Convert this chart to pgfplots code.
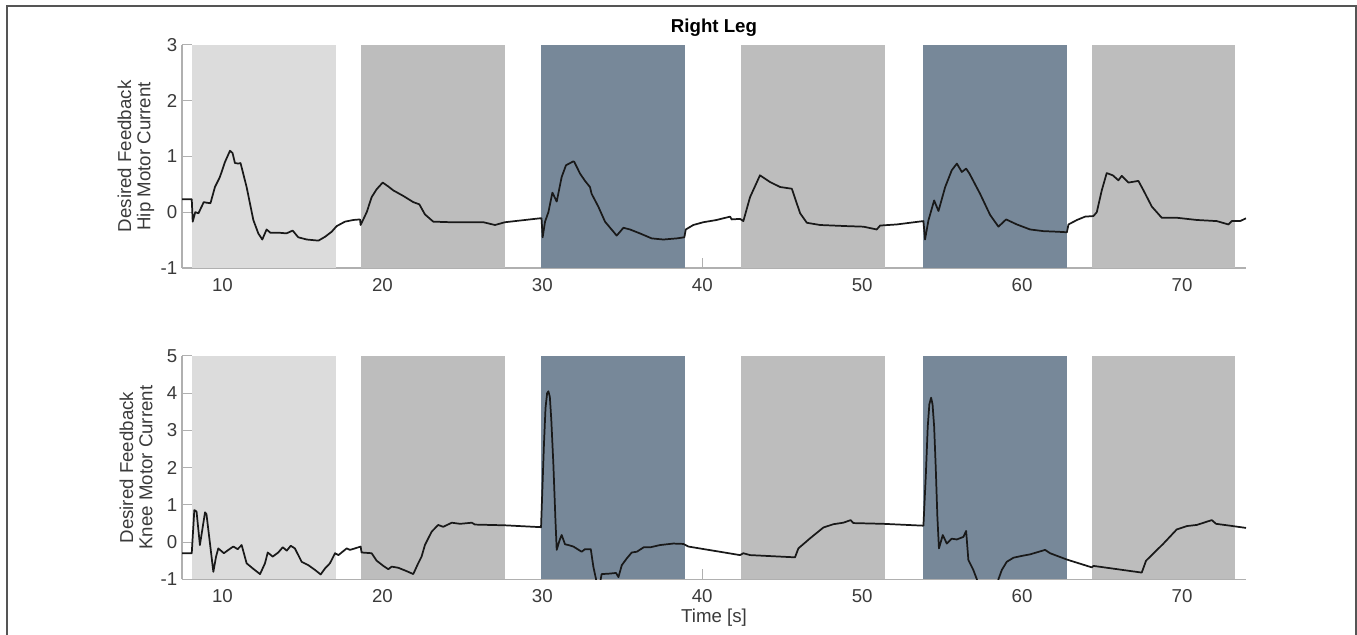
\documentclass[border=0pt]{standalone}
\usepackage{fontspec}
\setmainfont{Liberation Sans}
\usepackage{pgfplots}
\pgfplotsset{compat=1.18}
\definecolor{lg}{HTML}{DCDCDC}
\definecolor{mg}{HTML}{BDBDBD}
\definecolor{dk}{HTML}{778899}
\definecolor{txt}{HTML}{3A3A3A}
\definecolor{axc}{HTML}{B0B0B0}
\definecolor{frm}{HTML}{555555}

\newcommand{\patches}[2]{%
  \addplot[fill=lg, draw=none, forget plot] coordinates {(8.08,#1)(8.08,#2)(17.1,#2)(17.1,#1)} -- cycle;
  \addplot[fill=mg, draw=none, forget plot] coordinates {(18.66,#1)(18.66,#2)(27.66,#2)(27.66,#1)} -- cycle;
  \addplot[fill=dk, draw=none, forget plot] coordinates {(29.9,#1)(29.9,#2)(38.9,#2)(38.9,#1)} -- cycle;
  \addplot[fill=mg, draw=none, forget plot] coordinates {(42.4,#1)(42.4,#2)(51.4,#2)(51.4,#1)} -- cycle;
  \addplot[fill=dk, draw=none, forget plot] coordinates {(53.8,#1)(53.8,#2)(62.8,#2)(62.8,#1)} -- cycle;
  \addplot[fill=mg, draw=none, forget plot] coordinates {(64.4,#1)(64.4,#2)(73.3,#2)(73.3,#1)} -- cycle;
}

\pgfplotsset{
  myax/.style={
    scale only axis,
    width=798pt,
    height=167.5pt,
    anchor=south west,
    xmin=7.47, xmax=74.0,
    axis x line*=bottom, axis y line*=left,
    axis line style={axc, line width=0.8pt, -},
    tick style={axc, line width=0.8pt},
    tick align=inside,
    major tick length=7.5pt,
    xtick={10,20,...,70},
    /pgf/number format/assume math mode=true,
    ticklabel style={font=\fontsize{14}{16}\selectfont, text=txt},
    xticklabel style={yshift=-4pt},
    label style={font=\fontsize{14}{14.5}\selectfont, text=txt},
    ylabel style={at={([xshift=-34.5pt]axis description cs:0,0.5)}, anchor=center, align=center},
    clip=true,
  }
}

\begin{document}
\begin{tikzpicture}[x=0.75pt,y=0.75pt]
\useasboundingbox (0,0) rectangle (1357,635);
\draw[frm, line width=1.1pt] (7,-5) -- (7,629) -- (1356,629) -- (1356,-5);

\begin{axis}[myax, at={(136.5pt,275.25pt)},
  ymin=-1, ymax=3, ytick={-1,0,1,2,3},
  ylabel={Desired Feedback\\Hip Motor Current},
  title={Right Leg},
  title style={font=\fontsize{14}{16}\selectfont\bfseries, text=black, yshift=-3.6pt}]
\patches{-1}{3}
\addplot[black!90, line width=1.3pt, line join=round] coordinates {
(7.46,0.23)(8.08,0.23)(8.14,-0.17)(8.3,0.0)(8.5,-0.02)(8.83,0.18)(9.0,0.17)(9.25,0.16)(9.53,0.45)(9.84,0.63)(10.16,0.90)(10.47,1.10)(10.63,1.06)(10.78,0.88)(10.99,0.87)(11.13,0.88)(11.51,0.45)(11.93,-0.14)(12.24,-0.38)(12.49,-0.49)(12.76,-0.31)(13.0,-0.37)(13.6,-0.37)(14.0,-0.38)(14.39,-0.33)(14.74,-0.45)(15.27,-0.49)(16.0,-0.51)(16.42,-0.44)(16.83,-0.35)(17.14,-0.25)(17.66,-0.17)(18.18,-0.14)(18.6,-0.13)(18.64,-0.23)(19.02,0.0)(19.33,0.27)(19.64,0.41)(20.02,0.53)(20.37,0.46)(20.68,0.39)(21.31,0.29)(21.93,0.18)(22.31,0.14)(22.66,-0.04)(23.18,-0.17)(24.23,-0.18)(25.27,-0.18)(26.31,-0.18)(27.04,-0.23)(27.67,-0.18)(29.86,-0.11)(29.95,-0.11)(30.02,-0.45)(30.17,-0.17)(30.38,0.0)(30.63,0.35)(30.9,0.19)(31.21,0.63)(31.48,0.84)(31.94,0.91)(32.0,0.90)(32.36,0.69)(32.67,0.56)(32.98,0.45)(33.08,0.33)(33.5,0.10)(33.92,-0.17)(34.65,-0.42)(35.07,-0.28)(35.48,-0.31)(36.1,-0.38)(36.84,-0.47)(37.57,-0.49)(38.4,-0.47)(38.88,-0.45)(38.97,-0.31)(39.44,-0.23)(40.07,-0.18)(40.9,-0.14)(41.74,-0.08)(41.84,-0.13)(42.36,-0.12)(42.57,-0.16)(42.99,0.27)(43.61,0.66)(44.24,0.54)(44.87,0.45)(45.6,0.42)(46.12,-0.02)(46.54,-0.19)(47.37,-0.23)(49.04,-0.25)(50.08,-0.26)(50.91,-0.31)(51.12,-0.24)(52.16,-0.22)(53.83,-0.16)(53.93,-0.49)(54.14,-0.15)(54.5,0.21)(54.77,0.02)(55.19,0.45)(55.6,0.75)(55.92,0.87)(56.23,0.72)(56.5,0.78)(56.71,0.69)(57.37,0.33)(58.0,-0.05)(58.52,-0.26)(59.0,-0.13)(59.67,-0.22)(60.5,-0.31)(61.33,-0.34)(62.17,-0.35)(62.8,-0.36)(62.9,-0.22)(63.43,-0.14)(63.94,-0.08)(64.46,-0.07)(64.67,0.0)(64.98,0.39)(65.29,0.70)(65.67,0.66)(66.02,0.57)(66.23,0.65)(66.65,0.53)(67.27,0.56)(67.59,0.39)(68.11,0.10)(68.73,-0.10)(69.67,-0.10)(70.92,-0.14)(72.17,-0.16)(72.9,-0.22)(73.11,-0.16)(73.63,-0.16)(74.0,-0.11)
};
\end{axis}

\begin{axis}[myax, at={(136.5pt,41.78pt)},
  ymin=-1, ymax=5, ytick={-1,0,1,2,3,4,5},
  ylabel={Desired Feedback\\Knee Motor Current},
  xlabel={Time [s]},
  xlabel style={at={([yshift=-28.5pt]axis description cs:0.5,0)}, anchor=center}]
\patches{-1}{5}
\addplot[black!90, line width=1.3pt, line join=round] coordinates {
(7.46,-0.30)(8.08,-0.30)(8.24,0.86)(8.38,0.82)(8.59,-0.08)(8.91,0.80)(9.0,0.75)(9.22,-0.04)(9.43,-0.80)(9.6,-0.39)(9.74,-0.17)(10.09,-0.30)(10.37,-0.21)(10.68,-0.12)(10.95,-0.19)(11.2,-0.08)(11.51,-0.57)(11.93,-0.72)(12.35,-0.86)(12.66,-0.57)(12.83,-0.28)(13.14,-0.39)(13.49,-0.28)(13.77,-0.14)(14.02,-0.23)(14.27,-0.10)(14.53,-0.17)(14.95,-0.53)(15.37,-0.62)(15.79,-0.75)(16.14,-0.87)(16.41,-0.71)(16.72,-0.57)(17.04,-0.30)(17.25,-0.35)(17.77,-0.17)(17.97,-0.21)(18.29,-0.17)(18.64,-0.12)(18.7,-0.28)(19.33,-0.30)(19.64,-0.50)(20.06,-0.64)(20.37,-0.73)(20.58,-0.66)(20.99,-0.69)(21.51,-0.78)(21.93,-0.86)(22.24,-0.57)(22.45,-0.39)(22.66,-0.08)(23.08,0.28)(23.49,0.46)(23.8,0.41)(24.34,0.52)(24.86,0.49)(25.59,0.52)(25.79,0.47)(27.67,0.45)(29.92,0.40)(30.1,2.6)(30.2,3.6)(30.3,4.0)(30.38,4.05)(30.47,3.9)(30.56,3.3)(30.69,2.1)(30.82,0.6)(30.9,-0.21)(31.08,0.05)(31.21,0.19)(31.42,-0.06)(31.63,-0.08)(31.94,-0.12)(32.46,-0.26)(32.67,-0.19)(33.03,-0.19)(33.19,-0.66)(33.36,-1.0)(33.5,-1.3)(33.65,-1.0)(33.71,-0.86)(34.13,-0.85)(34.61,-0.83)(34.76,-0.94)(34.97,-0.62)(35.28,-0.44)(35.59,-0.28)(35.91,-0.26)(36.34,-0.14)(36.76,-0.14)(37.36,-0.08)(38.19,-0.04)(38.82,-0.05)(39.13,-0.12)(42.36,-0.35)(42.57,-0.30)(42.99,-0.35)(45.8,-0.41)(46.01,-0.17)(46.74,0.10)(47.57,0.39)(48.2,0.48)(48.82,0.52)(49.28,0.59)(49.45,0.51)(51.33,0.49)(53.83,0.44)(53.98,1.8)(54.1,3.1)(54.2,3.7)(54.31,3.88)(54.4,3.7)(54.5,3.1)(54.6,2.0)(54.7,0.7)(54.8,-0.17)(55.04,0.19)(55.29,-0.04)(55.6,0.09)(55.92,0.07)(56.33,0.14)(56.5,0.30)(56.64,-0.48)(56.95,-0.75)(57.17,-1.0)(57.4,-1.4)(58.3,-1.4)(58.52,-1.0)(58.73,-0.75)(59.04,-0.53)(59.46,-0.42)(60.0,-0.37)(60.5,-0.33)(61.44,-0.21)(61.75,-0.30)(62.8,-0.47)(64.36,-0.68)(64.46,-0.64)(67.48,-0.82)(67.75,-0.50)(68.84,-0.04)(69.67,0.34)(70.3,0.43)(70.92,0.46)(71.86,0.59)(72.13,0.49)(73.0,0.44)(74.0,0.38)
};
\end{axis}
\end{tikzpicture}
\end{document}
